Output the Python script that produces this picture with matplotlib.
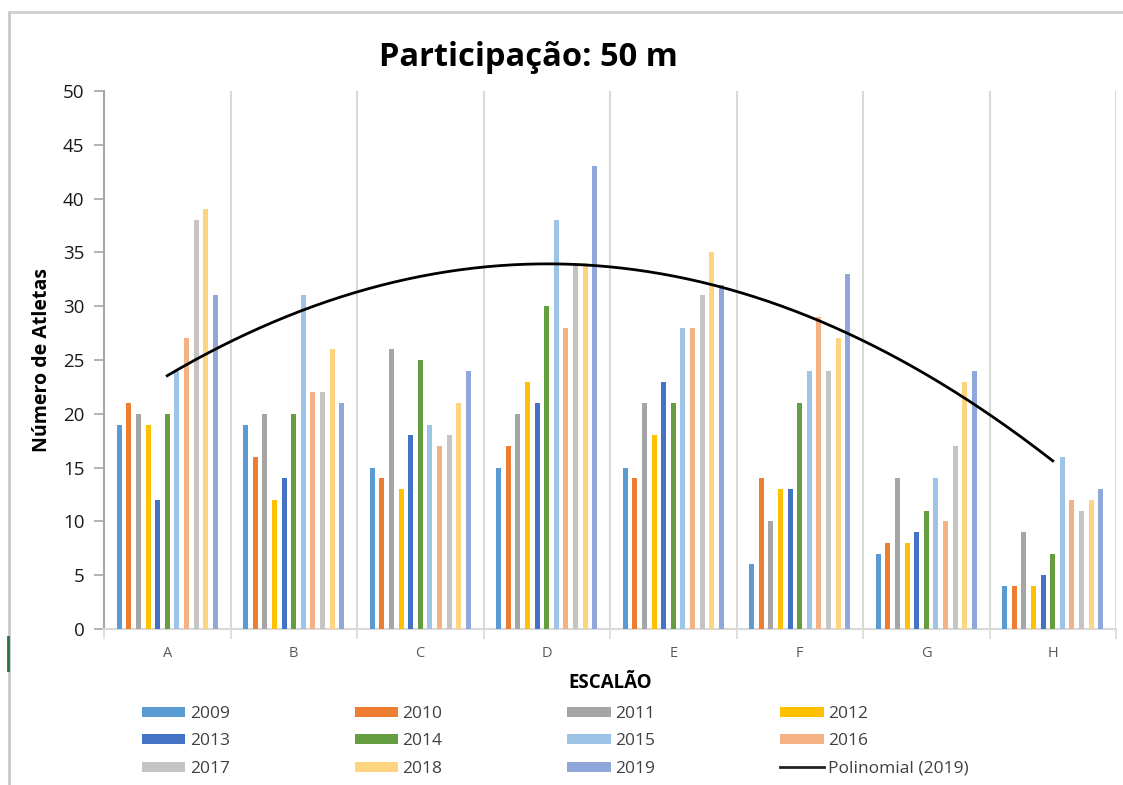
import numpy as np
import matplotlib
matplotlib.use("Agg")
import matplotlib.pyplot as plt
from matplotlib.patches import Patch
from matplotlib.lines import Line2D

plt.rcParams['font.family'] = ['Open Sans', 'DejaVu Sans']

categories = ['A', 'B', 'C', 'D', 'E', 'F', 'G', 'H']
years = ['2009', '2010', '2011', '2012', '2013', '2014',
         '2015', '2016', '2017', '2018', '2019']

v2009 = [19, 19, 15, 15, 15, 6, 7, 4]
v2010 = [21, 16, 14, 17, 14, 14, 8, 4]
v2011 = [20, 20, 26, 20, 21, 10, 14, 9]
v2012 = [19, 12, 13, 23, 18, 13, 8, 4]
v2013 = [12, 14, 18, 21, 23, 13, 9, 5]
v2014 = [20, 20, 25, 30, 21, 21, 11, 7]
v2015 = [24, 31, 19, 38, 28, 24, 14, 16]
v2016 = [27, 22, 17, 28, 28, 29, 10, 12]
v2017 = [38, 22, 18, 34, 31, 24, 17, 11]
v2018 = [39, 26, 21, 34, 35, 27, 23, 12]
v2019 = [31, 21, 24, 43, 32, 33, 24, 13]

series = [v2009, v2010, v2011, v2012, v2013, v2014,
          v2015, v2016, v2017, v2018, v2019]

colors = ['#5B9BD5', '#ED7D31', '#A5A5A5', '#FFC000', '#4472C4', '#659E41',
          '#9DC3E6', '#F4B183', '#C4C4C4', '#FFD480', '#8FA7D9']

fig = plt.figure(figsize=(11.23, 7.85), dpi=100)
ax = fig.add_axes([104 / 1123, 1 - 629 / 785, (1116 - 104) / 1123, (629 - 91) / 785])

x = np.arange(len(categories))
step = 0.0759
width = 0.04
n = len(series)
handles = []
for i, (vals, col, yr) in enumerate(zip(series, colors, years)):
    off = (i - (n - 1) / 2) * step
    ax.bar(x + off, vals, width=width, color=col, zorder=3)
    handles.append(Patch(facecolor=col, edgecolor='none', label=yr))

# second-order polynomial trend of the 2019 series
coef = np.polyfit(x + 1, v2019, 2)
xs = np.linspace(1, len(categories), 200)
ax.plot(xs - 1, np.polyval(coef, xs), color='black', lw=2.0, zorder=4)
handles.append(Line2D([], [], color='#222222', lw=2, label='Polinomial (2019)'))

ax.set_xlim(-0.5, len(categories) - 0.5)
ax.set_ylim(0, 50)
ax.set_yticks(np.arange(0, 51, 5))
ax.set_xticks(x)
ax.set_xticklabels(categories)
ax.set_xticks(np.arange(-0.5, len(categories)), minor=True)
ax.tick_params(axis='x', which='major', length=0, pad=12, labelsize=10.5, labelcolor='#595959')
ax.tick_params(axis='x', which='minor', length=7, width=1.2, color='#D9D9D9', direction='out')
ax.tick_params(axis='y', length=7, width=1.2, color='#A6A6A6', pad=7, labelsize=13.5,
               labelcolor='#1a1a1a')
ax.grid(axis='x', which='minor', color='#D9D9D9', lw=1.5, zorder=0)
ax.grid(axis='x', which='major', visible=False)
for s in ['top', 'right']:
    ax.spines[s].set_visible(False)
ax.spines['left'].set_color('#A6A6A6')
ax.spines['left'].set_linewidth(1.5)
ax.spines['bottom'].set_color('#D9D9D9')
ax.spines['bottom'].set_linewidth(1.5)

ax.set_ylabel('Número de Atletas', fontsize=14, fontweight='bold')
ax.yaxis.set_label_coords((42 - 104) / 1012, 0.5)
ax.set_xlabel('ESCALÃO', fontsize=13.5, fontweight='bold')
ax.xaxis.set_label_coords(0.5, -(683 - 629) / 538)
ax.xaxis.label.set_va('center')
ax.yaxis.label.set_va('center')

fig.text(528 / 1123, 1 - 57 / 785, 'Participação: 50 m', fontsize=23.5, fontweight='bold',
         ha='center', va='center')

# legend laid out row by row in four columns
ncol = 4
order = [r * ncol + c for c in range(ncol) for r in range(3)]
leg = fig.legend([handles[k] for k in order], [handles[k].get_label() for k in order],
                 ncol=ncol, loc='upper left', bbox_to_anchor=(142 / 1123, 1 - 706 / 785),
                 frameon=False, fontsize=12.5, handlelength=2.5, handleheight=0.5,
                 handletextpad=0.25, columnspacing=7.2, labelspacing=0.66,
                 borderpad=0, borderaxespad=0)
for t in leg.get_texts():
    t.set_color('#404040')

# outer chart frame
fig.add_artist(Line2D([9 / 1123, 9 / 1123], [0, 1 - 12 / 785], color='#C8C8C8', lw=2,
                      transform=fig.transFigure))
fig.add_artist(Line2D([9 / 1123, 1], [1 - 12 / 785, 1 - 12 / 785], color='#D0D0D0', lw=2,
                      transform=fig.transFigure))
fig.add_artist(Line2D([8 / 1123, 8 / 1123], [1 - 637 / 785, 1 - 670 / 785], color='#217346',
                      lw=2, transform=fig.transFigure))

fig.savefig('out.png', dpi=100)
